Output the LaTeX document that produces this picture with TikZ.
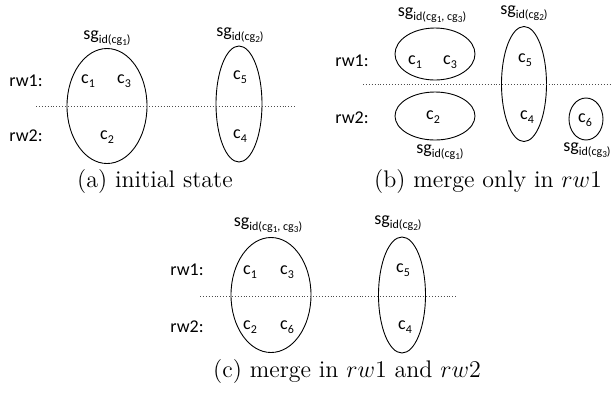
\documentclass[tikz,border=0pt]{standalone}
\usepackage{fontspec}
\newfontfamily\lblfont{Carlito}
\usetikzlibrary{shapes.geometric}
\newcommand{\subx}[1]{\raisebox{-0.45ex}{\fontsize{6}{6}\selectfont #1}}
\newcommand{\cgs}[1]{cg\raisebox{-0.4ex}{\fontsize{4.6}{5}\selectfont #1}}
\newcommand{\sglab}[1]{sg\subx{id(#1)}}
\newcommand{\cc}[1]{c\subx{#1}}
\tikzset{
  lbl/.style={font=\lblfont\fontsize{9}{10}\selectfont, inner sep=0pt},
  captext/.style={font=\fontsize{12}{14}\selectfont, inner sep=0pt},
  grp/.style={draw, ellipse, inner sep=0pt, line width=0.45pt},
  sepline/.style={densely dotted, line width=0.45pt, black!70}
}
\begin{document}
\begin{tikzpicture}[x=0.5pt,y=-0.5pt]
\useasboundingbox (0,0) rectangle (612,393);
% ---------- panel (a)
\node[grp, minimum width=40pt, minimum height=57.5pt] (ea1) at (107,106) {};
\node[grp, minimum width=23pt, minimum height=58pt] (ea2) at (239,104) {};
\node[lbl] (sga1) at (107,38) {\sglab{\cgs{1}}};
\node[lbl] (sga2) at (240,35) {\sglab{\cgs{2}}};
\node[lbl] (rw1a) at (26,81) {rw1:};
\node[lbl] (rw2a) at (26,136) {rw2:};
\coordinate (la1) at (36,106);
\coordinate (la2) at (296,106);
\draw[sepline] (la1) -- (la2);
\node[lbl] (ca1) at (88,81) {\cc{1}};
\node[lbl] (ca3) at (124,81) {\cc{3}};
\node[lbl] (ca2) at (107,137) {\cc{2}};
\node[lbl] (ca5) at (240,77) {\cc{5}};
\node[lbl] (ca4) at (240,136) {\cc{4}};
\node[captext] (capa) at (155,182) {(a) initial state};
% ---------- panel (b)
\node[grp, minimum width=40pt, minimum height=26pt] (eb1) at (435,54) {};
\node[grp, minimum width=22.5pt, minimum height=57.5pt] (eb2) at (524,84) {};
\node[grp, minimum width=40pt, minimum height=24pt] (eb3) at (435,116) {};
\node[grp, minimum width=17pt, minimum height=21pt] (eb4) at (586,119) {};
\node[lbl] (sgb1) at (432,15) {\sglab{\cgs{1}, \cgs{3}}};
\node[lbl] (sgb2) at (524,13) {\sglab{\cgs{2}}};
\node[lbl] (sgb3) at (440,152) {\sglab{\cgs{1}}};
\node[lbl] (sgb4) at (587,150) {\sglab{\cgs{3}}};
\node[lbl] (rw1b) at (352,61) {rw1:};
\node[lbl] (rw2b) at (352,118) {rw2:};
\coordinate (lb1) at (363,84);
\coordinate (lb2) at (612,84);
\draw[sepline] (lb1) -- (lb2);
\node[lbl] (cb1) at (415,62) {\cc{1}};
\node[lbl] (cb3) at (450,62) {\cc{3}};
\node[lbl] (cb2) at (433,117) {\cc{2}};
\node[lbl] (cb5) at (525,60) {\cc{5}};
\node[lbl] (cb4) at (527,117) {\cc{4}};
\node[lbl] (cb6) at (585,120) {\cc{6}};
\node[captext] (capb) at (488,182) {(b) merge only in $rw1$};
% ---------- panel (c)
\node[grp, minimum width=40pt, minimum height=57.5pt] (ec1) at (271,295) {};
\node[grp, minimum width=23.5pt, minimum height=58pt] (ec2) at (402,295) {};
\node[lbl] (sgc1) at (268,225) {\sglab{\cgs{1}, \cgs{3}}};
\node[lbl] (sgc2) at (398,223) {\sglab{\cgs{2}}};
\node[lbl] (rw1c) at (187,270) {rw1:};
\node[lbl] (rw2c) at (187,327) {rw2:};
\coordinate (lc1) at (200,296);
\coordinate (lc2) at (458,296);
\draw[sepline] (lc1) -- (lc2);
\node[lbl] (cc1) at (250,272) {\cc{1}};
\node[lbl] (cc3) at (287,272) {\cc{3}};
\node[lbl] (cc2) at (250,327) {\cc{2}};
\node[lbl] (cc6) at (287,327) {\cc{6}};
\node[lbl] (cc5) at (403,270) {\cc{5}};
\node[lbl] (cc4) at (405,327) {\cc{4}};
\node[captext] (capc) at (347,372) {(c) merge in $rw1$ and $rw2$};
\end{tikzpicture}
\end{document}
